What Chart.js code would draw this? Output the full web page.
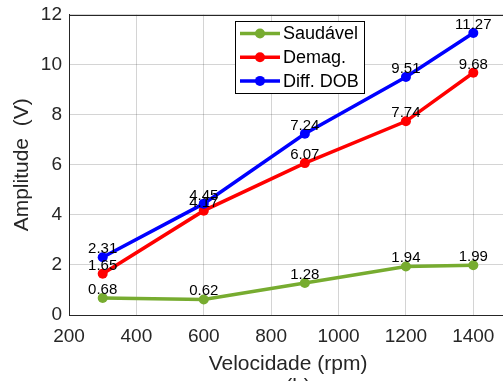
<!DOCTYPE html>
<html>
<head>
<meta charset="utf-8">
<script src="https://cdn.jsdelivr.net/npm/chart.js@4.4.1/dist/chart.umd.min.js"></script>
<style>
  html, body { margin: 0; padding: 0; background: #fff; overflow: hidden; }
  canvas { display: block; }
</style>
</head>
<body>
<canvas id="chart" width="512" height="381"></canvas>
<script>
var speeds = [300, 600, 900, 1200, 1400];
var healthy = [0.68, 0.62, 1.28, 1.94, 1.99];
var demag = [1.65, 4.17, 6.07, 7.74, 9.68];
var diffDob = [2.31, 4.45, 7.24, 9.51, 11.27];

var labels = ['Saudável', 'Demag.', 'Diff. DOB'];
var colors = ['#77AC30', '#FF0000', '#0000FF'];
var series = [healthy, demag, diffDob];

var fontFam = '"Liberation Sans", Arial, Helvetica, sans-serif';
var axisColor = '#262626';

var datasets = series.map((s, i) => {
  return {
    label: labels[i],
    data: s.map((v, j) => ({ x: speeds[j], y: v })),
    borderColor: colors[i],
    backgroundColor: colors[i],
    pointBackgroundColor: colors[i],
    pointBorderWidth: 0,
    pointRadius: 5,
    borderWidth: 3.5,
    order: 3 - i
  }
});

// value labels above every point, top border, legend box, caption
var extras = {
  id: 'extras',
  afterDatasetsDraw: (chart) => {
    var ctx = chart.ctx;
    var xs = chart.scales.x, ys = chart.scales.y;
    var area = chart.chartArea;
    ctx.save();
    ctx.strokeStyle = axisColor;
    ctx.lineWidth = 1;
    ctx.beginPath();
    ctx.moveTo(area.left, Math.round(area.top) + 0.5);
    ctx.lineTo(area.right, Math.round(area.top) + 0.5);
    ctx.stroke();

    ctx.fillStyle = '#000';
    ctx.font = '15px ' + fontFam;
    ctx.textAlign = 'center';
    ctx.textBaseline = 'alphabetic';
    series.forEach((s) => {
      s.forEach((v, j) => {
        ctx.fillText(v.toFixed(2), xs.getPixelForValue(speeds[j]), ys.getPixelForValue(v) - 4);
      });
    });
    ctx.restore();
  },
  afterDraw: (chart) => {
    var ctx = chart.ctx;
    ctx.save();
    // legend
    var bx = 235, by = 21, bw = 129, bh = 72;
    ctx.fillStyle = '#fff';
    ctx.fillRect(bx, by, bw, bh);
    ctx.strokeStyle = '#000';
    ctx.lineWidth = 1;
    ctx.strokeRect(bx + 0.5, by + 0.5, bw, bh);
    labels.forEach((l, i) => {
      var y = 33.5 + i * 23.7;
      ctx.strokeStyle = colors[i];
      ctx.lineWidth = 3.5;
      ctx.beginPath();
      ctx.moveTo(240, y);
      ctx.lineTo(280, y);
      ctx.stroke();
      ctx.fillStyle = colors[i];
      ctx.beginPath();
      ctx.arc(260, y, 5, 0, Math.PI * 2);
      ctx.fill();
      ctx.fillStyle = '#000';
      ctx.font = '18px ' + fontFam;
      ctx.textAlign = 'left';
      ctx.textBaseline = 'middle';
      ctx.fillText(l, 283, y + 1);
    });
    // cropped caption
    ctx.fillStyle = axisColor;
    ctx.font = '21px ' + fontFam;
    ctx.textAlign = 'center';
    ctx.textBaseline = 'alphabetic';
    ctx.fillText('(b)', 298, 393);
    ctx.restore();
  }
};

var chart = new Chart(document.getElementById('chart'), {
  type: 'line',
  data: { datasets: datasets },
  plugins: [extras],
  options: {
    responsive: false,
    animation: false,
    devicePixelRatio: 1,
    layout: { padding: { top: 14.7, right: 1, left: 0, bottom: 0 } },
    plugins: {
      legend: { display: false },
      tooltip: { enabled: false }
    },
    scales: {
      x: {
        type: 'linear',
        min: 200,
        max: 1500,
        afterFit: (scale) => {
          scale.height = 66;
          scale.paddingLeft = 0;
          scale.paddingRight = 0;
        },
        ticks: {
          stepSize: 200,
          includeBounds: false,
          padding: 10,
          color: axisColor,
          font: { family: fontFam, size: 19 },
          callback: (v) => String(v)
        },
        grid: { color: 'rgba(38,38,38,0.2)', drawTicks: false },
        border: { color: axisColor, width: 1 },
        title: {
          display: true,
          text: 'Velocidade (rpm)',
          color: axisColor,
          font: { family: fontFam, size: 21 },
          padding: { top: 0, bottom: 4 }
        }
      },
      y: {
        min: 0,
        max: 12,
        afterFit: (scale) => {
          scale.width = 69;
          scale.paddingTop = 0;
          scale.paddingBottom = 0;
        },
        ticks: {
          stepSize: 2,
          padding: 7,
          color: axisColor,
          font: { family: fontFam, size: 19 },
          callback: (v) => String(v)
        },
        grid: { color: 'rgba(38,38,38,0.2)', drawTicks: false },
        border: { color: axisColor, width: 1 },
        title: {
          display: true,
          text: 'Amplitude  (V)',
          color: axisColor,
          font: { family: fontFam, size: 21 },
          padding: { top: 10, bottom: 0 }
        }
      }
    }
  }
});
</script>
</body>
</html>
